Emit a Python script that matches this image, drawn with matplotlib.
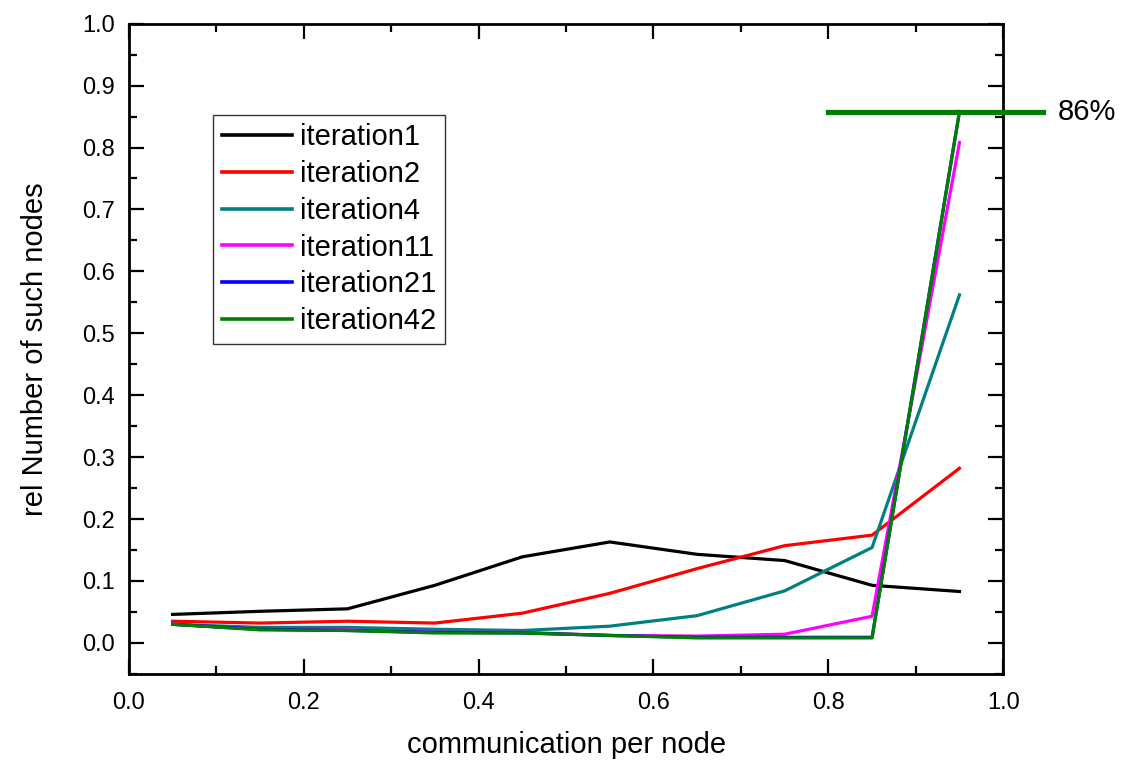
import matplotlib.pyplot as plt
from matplotlib.ticker import MultipleLocator

plt.rcParams['font.family'] = ['Liberation Sans', 'DejaVu Sans']

# communication per node (bin centres)
comm = [0.05, 0.15, 0.25, 0.35, 0.45, 0.55, 0.65, 0.75, 0.85, 0.95]

it1 = [0.046, 0.051, 0.055, 0.093, 0.139, 0.163, 0.143, 0.133, 0.093, 0.083]
it2 = [0.035, 0.032, 0.035, 0.032, 0.048, 0.080, 0.120, 0.157, 0.174, 0.282]
it4 = [0.030, 0.025, 0.025, 0.022, 0.020, 0.027, 0.044, 0.084, 0.154, 0.562]
it11 = [0.030, 0.022, 0.021, 0.017, 0.017, 0.012, 0.011, 0.014, 0.043, 0.808]
it21 = [0.030, 0.022, 0.020, 0.017, 0.016, 0.012, 0.009, 0.009, 0.009, 0.858]
it42 = [0.030, 0.021, 0.020, 0.016, 0.016, 0.012, 0.008, 0.008, 0.008, 0.858]

labels = ['iteration1', 'iteration2', 'iteration4', 'iteration11', 'iteration21', 'iteration42']
colors = ['black', 'red', '#008080', 'magenta', 'blue', 'green']
series = [it1, it2, it4, it11, it21, it42]

level = 0.858
level_text = '86%'

fig = plt.figure(figsize=(11.31, 7.64), dpi=100)
ax = fig.add_axes([0.114, 0.118, 0.773, 0.851])

for y, c, lab in zip(series, colors, labels):
    ax.plot(comm, y, color=c, lw=2.3, label=lab)

# saturation level marker
ax.plot([0.8, 1.046], [level, level], color='green', lw=3.8, clip_on=False, zorder=5)
ax.text(1.062, level, level_text, fontsize=21, va='center', ha='left', clip_on=False)

ax.set_xlim(0, 1.0)
ax.set_ylim(-0.05, 1.0)
ax.xaxis.set_major_locator(MultipleLocator(0.2))
ax.xaxis.set_minor_locator(MultipleLocator(0.1))
ax.yaxis.set_major_locator(MultipleLocator(0.1))
ax.yaxis.set_minor_locator(MultipleLocator(0.05))
ax.tick_params(which='both', direction='in', top=True, right=True, labelsize=17, width=1.6)
ax.tick_params(which='major', length=11)
ax.tick_params(which='minor', length=6)
ax.tick_params(axis='x', which='major', pad=13)
ax.tick_params(axis='y', which='major', pad=10)
for s in ax.spines.values():
    s.set_linewidth(2)

ax.set_xlabel('communication per node', fontsize=21, labelpad=12)
ax.set_ylabel('rel Number of such nodes', fontsize=21, labelpad=24)

leg = ax.legend(loc='upper left', bbox_to_anchor=(0.096, 0.86), fontsize=21,
                frameon=True, fancybox=False, edgecolor='black', handlelength=2.4,
                labelspacing=0.3, borderpad=0.3, handletextpad=0.3, borderaxespad=0)
leg.get_frame().set_linewidth(1)
for line in leg.get_lines():
    line.set_linewidth(2.6)

fig.savefig('out.png', dpi=100)
